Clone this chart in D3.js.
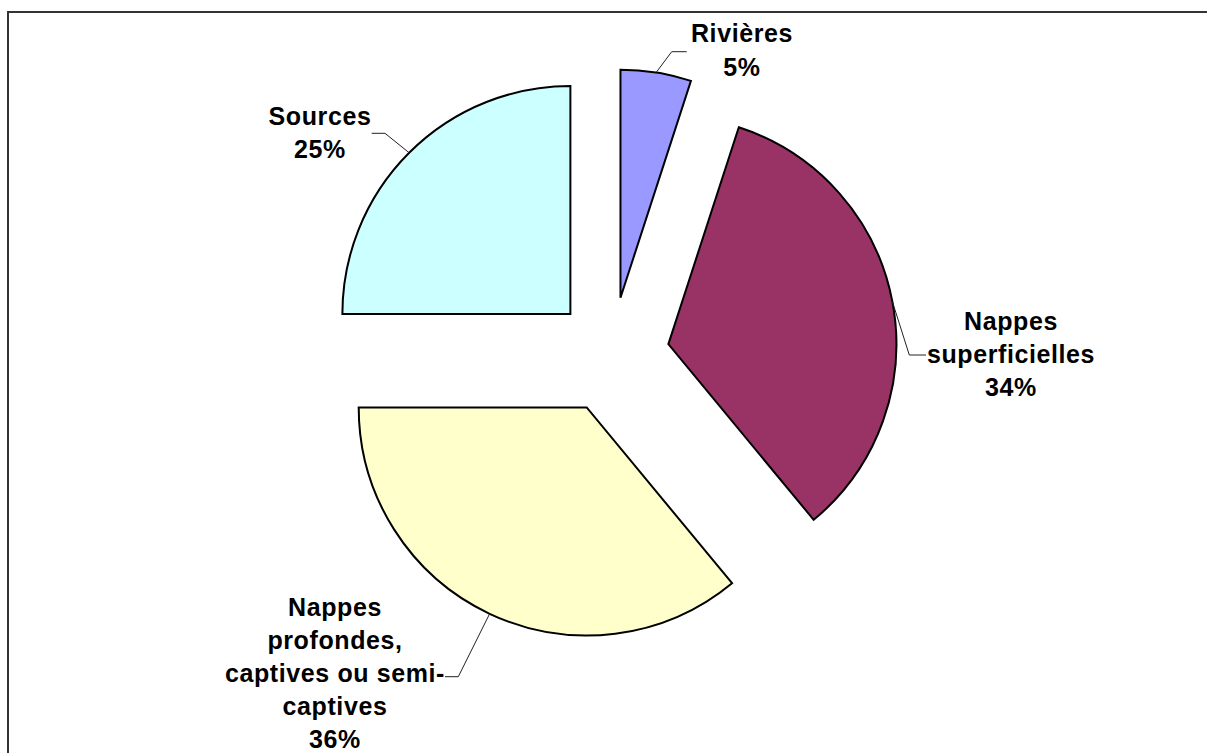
<!DOCTYPE html>
<html>
<head>
<meta charset="utf-8">
<script src="https://cdn.jsdelivr.net/npm/d3@7"></script>
<style>
  html, body { margin: 0; padding: 0; background: #fff; overflow: hidden; }
  svg { display: block; }
</style>
</head>
<body>
<svg id="chart" width="1207" height="753"></svg>
<script>
// Origine de l'eau captée : part de chaque type de ressource
const categories = ["Rivières", "Nappes superficielles", "Nappes profondes, captives ou semi-captives", "Sources"];
const values = [5, 34, 36, 25];
const labelLines = [
  ["Rivières"],
  ["Nappes", "superficielles"],
  ["Nappes", "profondes,", "captives ou semi-", "captives"],
  ["Sources"]
];
const colors = ["#9999FF", "#993366", "#FFFFCC", "#CCFFFF"];

// Mise en page
const W = 1207, H = 753;
const center = [611.4, 355];
const radius = 228;
const explode = 58;
const lineGap = 33.2;
// position du texte (centre, première ligne de base) et coude du trait de rappel
const labelLayout = [
  { x: 742, y: 42.3, elbow: [671.7, 51.7], end: [686.7, 51.7] },
  { x: 1011, y: 330, elbow: [909.3, 355], end: [926, 355] },
  { x: 335, y: 615.5, elbow: [458.3, 676.7], end: [445, 676.7] },
  { x: 320, y: 125, elbow: [385, 133.3], end: [371.7, 133.3] }
];

const svg = d3.select("#chart");

// cadre de la zone de graphique (bords haut et gauche visibles)
svg.append("path")
  .attr("d", d3.line()([[8, H + 10], [8, 12], [W + 10, 12]]))
  .attr("fill", "none")
  .attr("stroke", "#333")
  .attr("stroke-width", 2);

const pie = d3.pie().sort(null).value(d => d).startAngle(0).endAngle(2 * Math.PI);
const arcs = pie(values);
const arc = d3.arc().innerRadius(0).outerRadius(radius);

const pct = d3.format(".0%");

const g = svg.append("g").attr("transform", `translate(${center[0]},${center[1]})`);

// secteurs décalés le long de leur bissectrice
const offsetOf = d => {
  const a = (d.startAngle + d.endAngle) / 2;
  return [Math.sin(a) * explode, -Math.cos(a) * explode];
};

g.selectAll("path.slice")
  .data(arcs)
  .join("path")
  .attr("class", "slice")
  .attr("transform", d => { const o = offsetOf(d); return `translate(${o[0]},${o[1]})`; })
  .attr("d", arc)
  .attr("fill", (d, i) => colors[i])
  .attr("stroke", "#000")
  .attr("stroke-width", 2)
  .attr("stroke-linejoin", "miter");

// traits de rappel
arcs.forEach((d, i) => {
  const a = (d.startAngle + d.endAngle) / 2;
  const o = offsetOf(d);
  const p0 = [center[0] + o[0] + Math.sin(a) * radius, center[1] + o[1] - Math.cos(a) * radius];
  const L = labelLayout[i];
  svg.append("path")
    .attr("d", d3.line()([p0, L.elbow, L.end]))
    .attr("fill", "none")
    .attr("stroke", "#222")
    .attr("stroke-width", 1);
});

// étiquettes : nom de la catégorie puis pourcentage
arcs.forEach((d, i) => {
  const L = labelLayout[i];
  const lines = labelLines[i].concat([pct(values[i] / 100)]);
  const t = svg.append("text")
    .attr("text-anchor", "middle")
    .attr("font-family", "'Liberation Sans', Arial, sans-serif")
    .attr("font-weight", "bold")
    .attr("font-size", 25)
    .attr("letter-spacing", 0.6)
    .attr("fill", "#000");
  lines.forEach((s, k) => {
    t.append("tspan")
      .attr("x", L.x)
      .attr("y", L.y + k * lineGap)
      .text(s);
  });
});
</script>
</body>
</html>
